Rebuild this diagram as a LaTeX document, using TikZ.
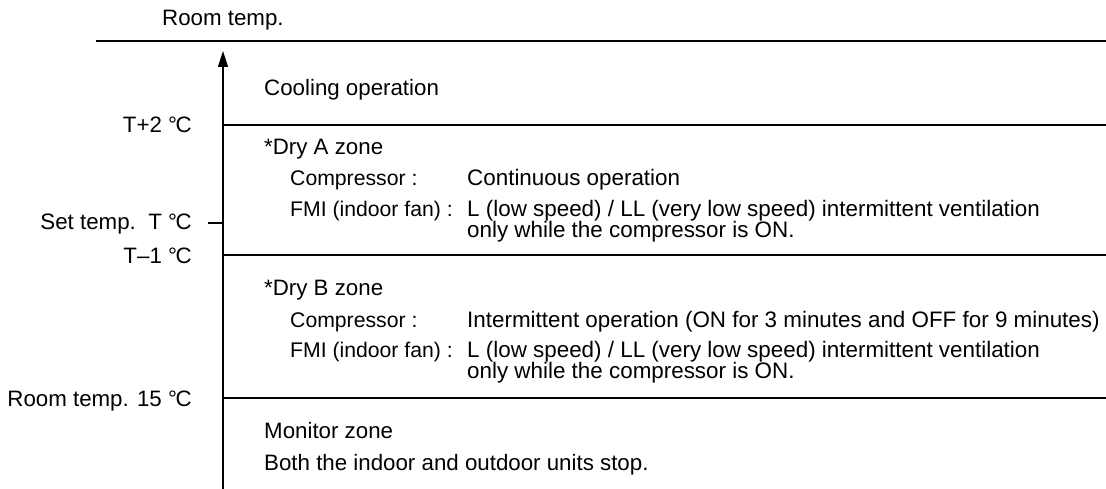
\documentclass[tikz,border=0pt]{standalone}
\usepackage{fontspec}
\setmainfont{Liberation Sans}
\usetikzlibrary{arrows.meta}
\newcommand\degc{\textdegree\kern-0.06em C}

\begin{document}
\begin{tikzpicture}[x=1pt,y=-1pt,
  lbl/.style={inner sep=0pt, font=\fontsize{22.3}{26}\selectfont, anchor=base west},
  tlbl/.style={inner sep=0pt, font=\fontsize{22.3}{26}\selectfont, anchor=base east},
  key/.style={inner sep=0pt, font=\fontsize{21.2}{25}\selectfont, anchor=base west},
  val/.style={inner sep=0pt, font=\fontsize{22.4}{27}\selectfont, anchor=base west},
  rule/.style={line width=1.4pt}]
\useasboundingbox (0,0) rectangle (1106,489);

% heading and top rule
\node[lbl] (title) at (162,26) {Room temp.};
\coordinate (hl) at (96,41);
\coordinate (hr) at (1106,41);
\draw[rule] (hl) -- (hr);

% temperature axis
\coordinate (axbot) at (223,489);
\coordinate (axtop) at (223,51);
\draw[rule,-{Triangle[length=16pt,width=10pt]}] (axbot) -- (axtop);

% zone boundaries
\coordinate (b1l) at (223,125); \coordinate (b1r) at (1106,125);
\coordinate (b2l) at (223,255); \coordinate (b2r) at (1106,255);
\coordinate (b3l) at (223,398); \coordinate (b3r) at (1106,398);
\draw[rule] (b1l) -- (b1r);
\draw[rule] (b2l) -- (b2r);
\draw[rule] (b3l) -- (b3r);

% set-temperature tick
\coordinate (tk0) at (208,223); \coordinate (tk1) at (223,223);
\draw[rule] (tk0) -- (tk1);

% axis labels
\node[tlbl] (tp2) at (192,133) {T+2 \degc};
\node[tlbl] (tset) at (192,230) {Set temp.\ \ T \degc};
\node[tlbl] (tm1) at (192,263) {T\textendash 1 \degc};
\node[tlbl] (t15) at (192,406) {Room temp. 15 \degc};

% cooling zone
\node[lbl] (cool) at (264,96) {Cooling operation};

% dry A zone
\node[lbl] (dryA) at (264,155) {*Dry A zone};
\node[key] (compA) at (290,186) {Compressor :};
\node[val] (compAv) at (467,186) {Continuous operation};
\node[key] (fanA) at (290,217) {FMI (indoor fan) :};
\node[val] (fanAv) at (467,217) {L (low speed) / LL (very low speed) intermittent ventilation};
\node[val] (fanAw) at (467,238) {only while the compressor is ON.};

% dry B zone
\node[lbl] (dryB) at (264,295) {*Dry B zone};
\node[key] (compB) at (290,327) {Compressor :};
\node[val] (compBv) at (467,327) {Intermittent operation (ON for 3 minutes and OFF for 9 minutes)};
\node[key] (fanB) at (290,357) {FMI (indoor fan) :};
\node[val] (fanBv) at (467,357) {L (low speed) / LL (very low speed) intermittent ventilation};
\node[val] (fanBw) at (467,378) {only while the compressor is ON.};

% monitor zone
\node[lbl] (mon) at (264,438) {Monitor zone};
\node[lbl] (monv) at (264,470) {Both the indoor and outdoor units stop.};
\end{tikzpicture}
\end{document}
